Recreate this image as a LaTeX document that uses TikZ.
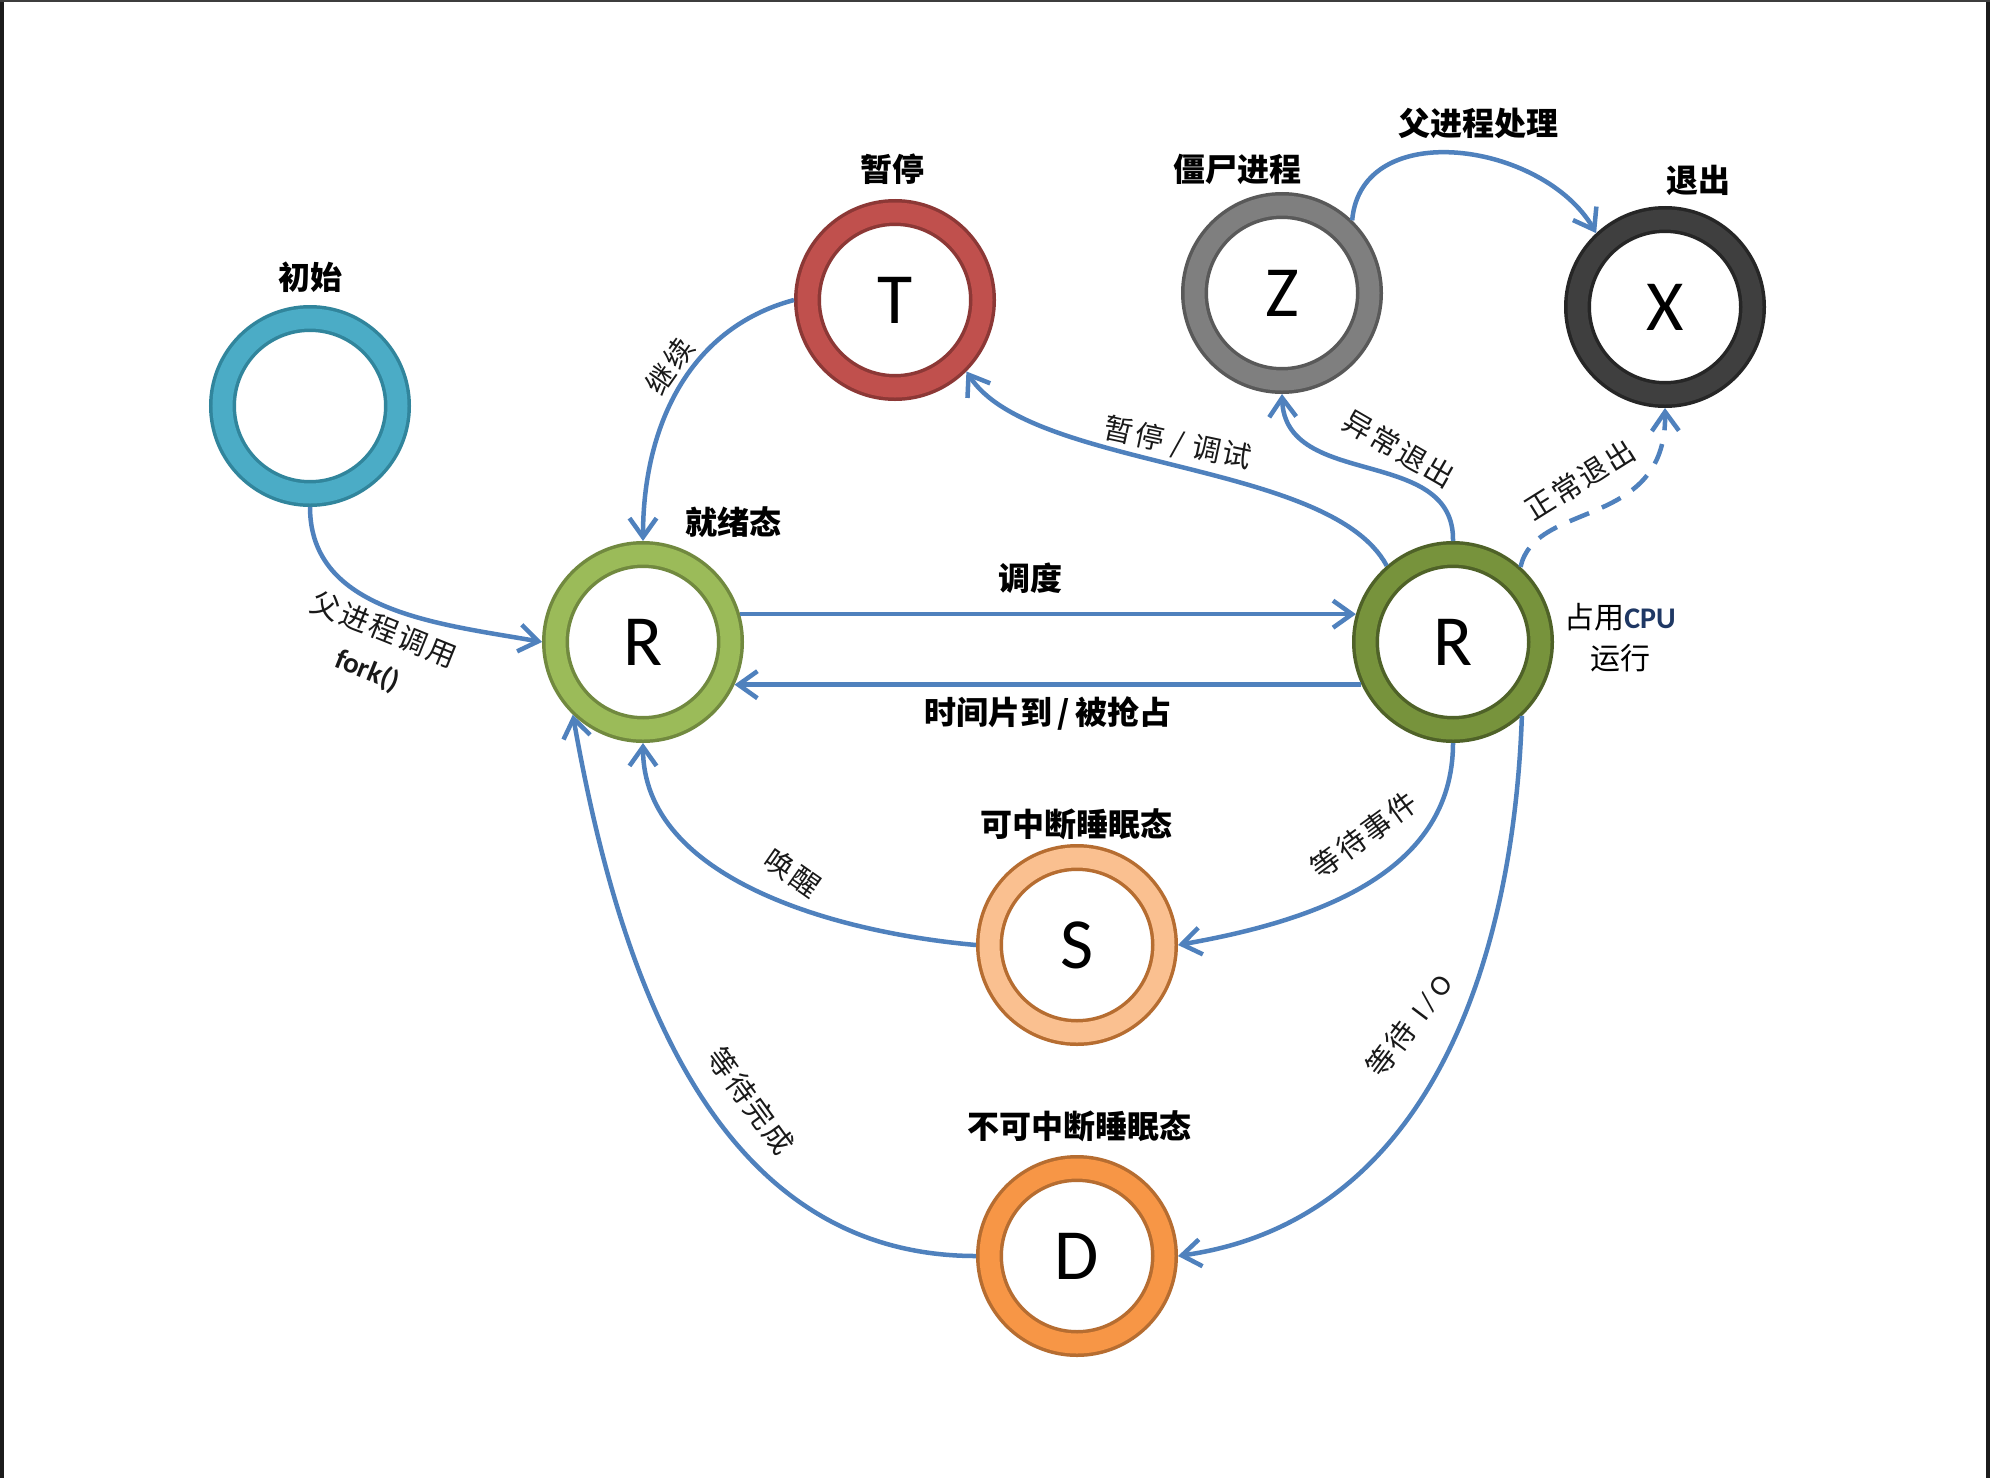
\documentclass[tikz,border=0pt]{standalone}
\usepackage{fontspec}
\setmainfont{Noto Sans CJK SC}
\newfontfamily\cjkspaced{Noto Sans CJK SC}[LetterSpace=8]
\newfontfamily\latin{Carlito}
\newfontfamily\latinspaced{Carlito}[LetterSpace=18]
\usetikzlibrary{arrows.meta,calc}
\definecolor{arrowblue}{HTML}{4F81BD}
\definecolor{initF}{HTML}{4BACC6}\definecolor{initE}{HTML}{31859C}
\definecolor{tF}{HTML}{C0504D}\definecolor{tE}{HTML}{8C3836}
\definecolor{zF}{HTML}{7F7F7F}\definecolor{zE}{HTML}{595959}
\definecolor{xF}{HTML}{3F3F3F}\definecolor{xE}{HTML}{262626}
\definecolor{rrF}{HTML}{9BBB59}\definecolor{rrE}{HTML}{71893F}
\definecolor{rcF}{HTML}{77933C}\definecolor{rcE}{HTML}{4F6228}
\definecolor{sF}{HTML}{FAC090}\definecolor{sE}{HTML}{B66D31}
\definecolor{dF}{HTML}{F79646}\definecolor{dE}{HTML}{B66D31}
\definecolor{cpublue}{HTML}{1F3864}
\definecolor{framegray}{HTML}{1C1C1C}
\tikzset{
  state/.style n args={2}{circle, minimum size=175pt, inner sep=0pt, outer sep=13.5pt,
    fill=white, draw=#2, line width=3.5pt, double=#1, double distance=20pt,
    font=\latin\fontsize{72}{72}\selectfont},
  title/.style={font=\bfseries\fontsize{32}{38}\selectfont, text=black, inner sep=0pt},
  elabel/.style={font=\cjkspaced\fontsize{29}{32}\selectfont, text=black!90, inner sep=0pt},
  conn/.style={draw=arrowblue, line width=4.5pt, -{Straight Barb[length=19pt,width=27pt]}},
}
\begin{document}
\begin{tikzpicture}[x=1pt,y=1pt]
\useasboundingbox (0,0) rectangle (1990,-1478);
\fill[white] (0,0) rectangle (1990,-1478);
% frame bars
\fill[framegray] (0,0) rectangle (4,-1478);
\fill[framegray] (1986,0) rectangle (1990,-1478);
\fill[framegray!85] (0,0) rectangle (1990,-2);

% states
\node[state={initF}{initE}] (init) at (310,-406) {};
\node[state={tF}{tE}] (T) at (895,-300) {T};
\node[state={zF}{zE}] (Z) at (1282,-293) {Z};
\node[state={xF}{xE}] (X) at (1665,-307) {X};
\node[state={rrF}{rrE}] (Rr) at (643,-642) {R};
\node[state={rcF}{rcE}] (Rc) at (1453,-642) {R};
\node[state={sF}{sE}] (S) at (1077,-945) {S};
\node[state={dF}{dE}] (D) at (1077,-1256) {D};

% titles
\node[title] (tInit) at (310,-277) {初始};
\node[title] (tT) at (892,-169) {暂停};
\node[title] (tZ) at (1237,-169) {僵尸进程};
\node[title] (tX) at (1698,-180) {退出};
\node[title] (tRr) at (733,-522) {就绪态};
\node[title] (tS) at (1076,-824) {可中断睡眠态};
\node[title] (tD) at (1079,-1126) {不可中断睡眠态};
\node[font=\fontsize{30}{41}\selectfont, align=center, inner sep=0pt] (tRc) at (1620,-638)
  {占用{\latin\bfseries\color{cpublue}CPU}\\运行};

% connectors
\draw[conn] (init.south) to[out=-90, in=170] (Rr.west);
\draw[conn] (T.west) to[out=195, in=90] (Rr.north);
\draw[conn] (Rc.131) .. controls (1330,-460) and (1030,-470) .. (T.-45);
\draw[conn] (Rc.north) .. controls (1455,-445) and (1285,-490) .. (Z.south);
\draw[conn, dash pattern=on 21pt off 14pt] (Rc.48) .. controls (1535,-500) and (1667,-530) .. (X.south);
\draw[conn] (Z.46) to[out=85, in=120, looseness=1.1] (X.133);
\draw[conn] (Rr.16) -- (Rc.164);
\draw[conn] (Rc.-155) -- (Rr.-25);
\draw[conn] (Rc.south) to[out=-90, in=10] (S.east);
\draw[conn] (S.west) to[out=175, in=-90, looseness=0.9] (Rr.south);
\draw[conn] (D.west) to[out=180, in=-80] (Rr.-134);
\draw[conn] (Rc.-47) to[out=-92, in=8] (D.east);

% connector labels
\node[title] (lZX) at (1478,-123) {父进程处理};
\node[title] (lSched) at (1030,-578) {调度};
\node[title] (lPre) at (1048,-713) {时间片到\,/\,被抢占};
\node[elabel, rotate=-12] (lStop) at (1178,-444) {暂停 / 调试};
\node[elabel, rotate=-30] (lAbn) at (1399,-449) {异常退出};
\node[elabel, rotate=32] (lNorm) at (1580,-480) {正常退出};
\node[elabel, rotate=55] (lCont) at (670,-366) {继续};
\node[elabel, rotate=-22, align=center, font=\cjkspaced\fontsize{29}{43}\selectfont] (lFork) at (376,-650)
  {父进程调用\\{\latin\bfseries fork()}};
\node[elabel, rotate=-35] (lWake) at (793,-873) {唤醒};
\node[elabel, rotate=36] (lEvt) at (1364,-835) {等待事件};
\node[elabel, rotate=53] (lIO) at (1409,-1025) {等待{\latinspaced\ I/O}};
\node[elabel, rotate=-54] (lDone) at (751,-1101) {等待完成};
\end{tikzpicture}
\end{document}
